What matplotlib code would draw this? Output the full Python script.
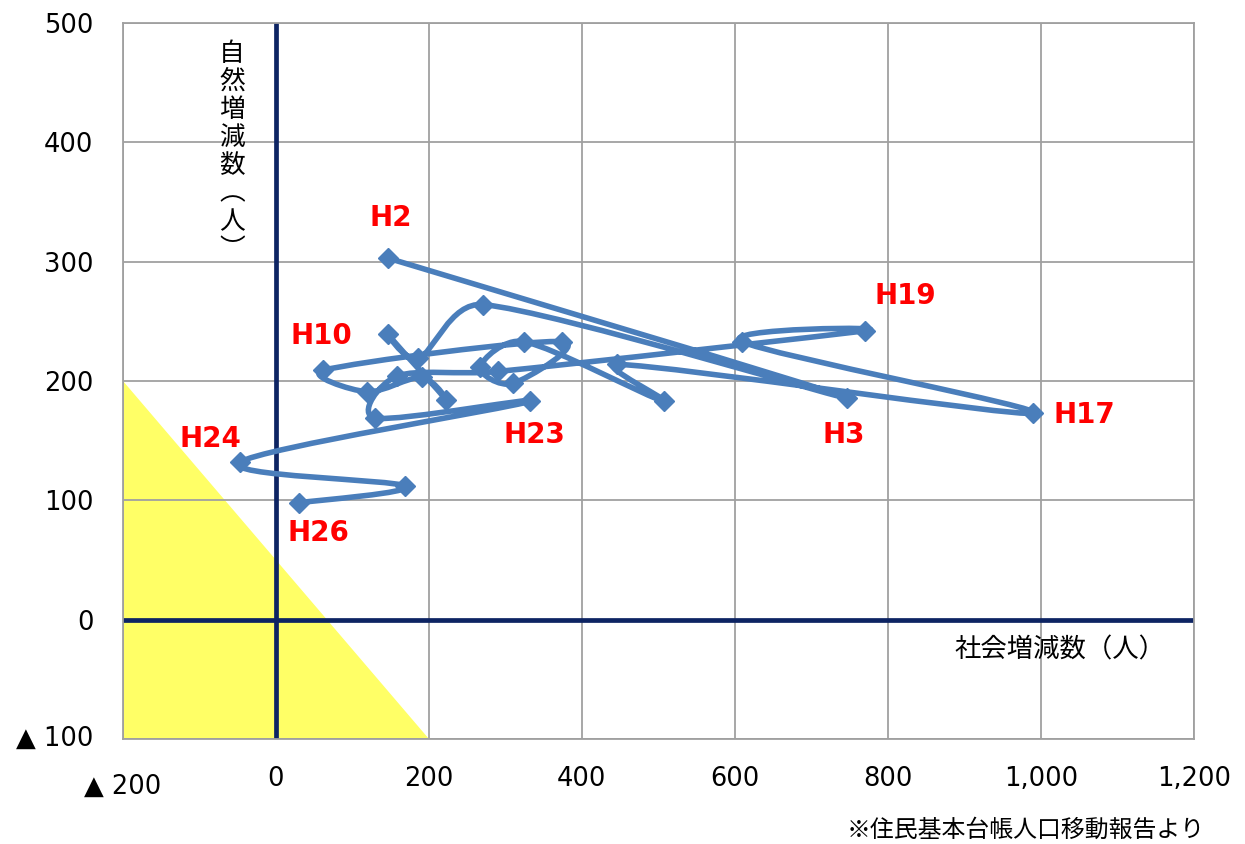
import numpy as np
import matplotlib
matplotlib.use("Agg")
import matplotlib.pyplot as plt
from matplotlib.path import Path
from matplotlib.patches import PathPatch, Polygon
from matplotlib.transforms import ScaledTranslation

# ---------------- data ----------------
years = ["H2", "H3", "H4", "H5", "H6", "H7", "H8", "H9", "H10", "H11", "H12", "H13",
         "H14", "H15", "H16", "H17", "H18", "H19", "H20", "H21", "H22", "H23", "H24",
         "H25", "H26"]
social = [146, 746, 271, 186, 147, 223, 191, 119, 62, 374, 310, 267,
          324, 507, 446, 990, 609, 770, 290, 158, 130, 332, -47, 169, 30]
natural = [303, 186, 264, 219, 239, 184, 203, 191, 209, 233, 198, 212,
           233, 183, 214, 173, 233, 242, 208, 204, 169, 183, 132, 112, 98]
labelled = ["H2", "H3", "H10", "H17", "H19", "H23", "H24", "H26"]

zone_x = [-200, -200, 200]
zone_y = [200, -100, -100]

xticks = [-200, 0, 200, 400, 600, 800, 1000, 1200]
xticklabels = ["▲ 200", "0", "200", "400", "600", "800", "1,000", "1,200"]
yticks = [-100, 0, 100, 200, 300, 400, 500]
yticklabels = ["▲ 100", "0", "100", "200", "300", "400", "500"]

# ---------------- style ----------------
SERIES = "#4A7EBB"
NAVY = "#0D2463"
GRID = "#A0A0A0"
CJK = ["Noto Sans CJK JP", "DejaVu Sans"]
plt.rcParams["font.family"] = ["DejaVu Sans", "Noto Sans CJK JP"]

fig = plt.figure(figsize=(12.45, 8.44), dpi=100)
ax = fig.add_axes([0.0986, 0.124, 0.8605, 0.8491])
ax.set_xlim(-200, 1200)
ax.set_ylim(-100, 500)

ax.add_patch(Polygon(np.column_stack([zone_x, zone_y]), closed=True,
                     facecolor="#FFFF66", edgecolor="none", zorder=0))

ax.set_xticks(xticks)
ax.set_xticklabels(xticklabels)
ax.set_yticks(yticks)
ax.set_yticklabels(yticklabels)
ax.tick_params(axis="x", length=0, pad=19.5, labelsize=18.5, colors="black")
ax.tick_params(axis="y", length=0, pad=21, labelsize=18.5, colors="black")
xl = ax.get_xticklabels()[0]
xl.set_transform(xl.get_transform() + ScaledTranslation(0, -0.07, fig.dpi_scale_trans))
yl = ax.get_yticklabels()[0]
yl.set_transform(yl.get_transform() + ScaledTranslation(0, 0.04, fig.dpi_scale_trans))

ax.grid(True, color=GRID, lw=1.3, zorder=1)
ax.set_axisbelow(True)
for s in ax.spines.values():
    s.set_color(GRID)
    s.set_linewidth(1.3)

ax.axhline(0, color=NAVY, lw=3.4, zorder=2)
ax.axvline(0, color=NAVY, lw=3.4, zorder=2)


def smooth_path(xs, ys, cap=0.4):
    """Excel-like smoothed line: cubic Bezier through the points (pixel space)."""
    P = ax.transData.transform(np.column_stack([xs, ys]).astype(float))
    n = len(P)
    ext = np.vstack([P[0], P, P[-1]])
    verts = [P[0]]
    codes = [Path.MOVETO]

    def arm(tangent, seglen):
        t = tangent / 6.0
        L = np.linalg.norm(t)
        lim = cap * seglen
        if L > lim and L > 0:
            t = t * lim / L
        return t

    for i in range(n - 1):
        p0, p1, p2, p3 = ext[i], ext[i + 1], ext[i + 2], ext[i + 3]
        d = np.linalg.norm(p2 - p1)
        c1 = p1 + arm(p2 - p0, d)
        c2 = p2 - arm(p3 - p1, d)
        verts += [c1, c2, p2]
        codes += [Path.CURVE4] * 3
    verts = ax.transData.inverted().transform(np.array(verts))
    return Path(verts, codes)


ax.add_patch(PathPatch(smooth_path(social, natural), facecolor="none",
                       edgecolor=SERIES, lw=4.0, capstyle="round",
                       joinstyle="round", zorder=3))
ax.plot(social, natural, linestyle="none", marker="D", markersize=10,
        color=SERIES, zorder=4)

offsets = {"H2": (2, 29), "H3": (-2, -27), "H10": (-1.5, 24.5), "H17": (37, -1),
           "H19": (29, 25), "H23": (3, -24), "H24": (-21, 17), "H26": (14, -22)}
for name in labelled:
    i = years.index(name)
    ax.annotate(name, (social[i], natural[i]), xytext=offsets[name],
                textcoords="offset points", ha="center", va="center",
                color="#FF0000", fontsize=20, fontweight="bold", zorder=5)

ax.text(0.8745, 0.1246, "社会増減数（人）", transform=ax.transAxes, ha="center",
        va="center", fontsize=19, family=CJK, zorder=5)
ax.text(0.102, 0.82, "\n".join("自然増減数︵人︶"), transform=ax.transAxes,
        ha="center", va="center", fontsize=18.5, linespacing=1.1, family=CJK, zorder=5)
fig.text(0.968, 0.0166, "※住民基本台帳人口移動報告より", ha="right", va="center",
         fontsize=17.2, family=CJK)

fig.savefig("out.png", dpi=100)
